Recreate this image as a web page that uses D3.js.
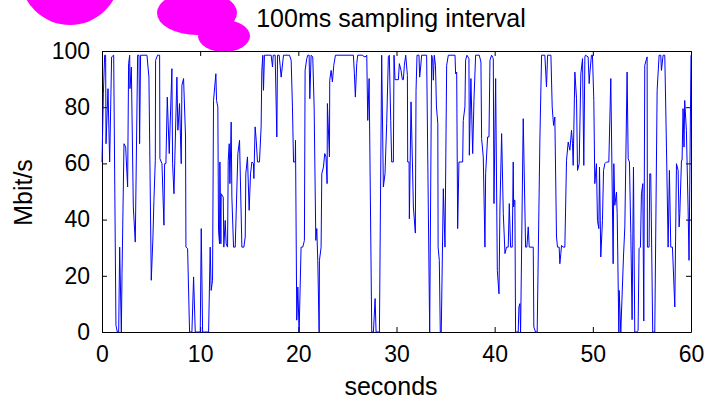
<!DOCTYPE html>
<html>
<head>
<meta charset="utf-8">
<script src="https://cdn.jsdelivr.net/npm/d3@7"></script>
<style>
  body { margin: 0; background: #fff; }
  svg { display: block; font-family: "Liberation Sans", Arial, sans-serif; }
  .axis text { font-size: 23px; fill: #000; }
  .axis path, .axis line { stroke: #000; }
</style>
</head>
<body>
<svg id="chart"></svg>
<script>
// 100 ms samples (seconds, Mbit/s)
const times = [
  0.00, 0.14, 0.27, 0.37, 0.41, 0.61, 0.78, 0.98, 1.19, 1.42, 1.56, 1.70, 1.80, 1.97, 2.04, 2.24, 2.41, 2.61, 2.71, 2.82,
  2.85, 2.99, 3.19, 3.39, 3.63, 3.77, 3.83, 3.93, 4.58, 4.78, 5.02, 5.19, 5.29, 5.43, 5.46, 5.66, 5.87, 5.90, 6.11, 6.31,
  6.38, 6.51, 6.65, 6.85, 7.12, 7.19, 7.33, 7.63, 7.73, 7.90, 8.07, 8.14, 8.31, 8.51, 8.55, 8.72, 8.92, 9.16, 9.33, 9.50,
  10.01, 10.11, 10.25, 10.86, 11.02, 11.12, 11.26, 11.36, 11.60, 11.67, 11.80, 11.87, 11.97, 12.01, 12.11, 12.14, 12.35, 12.41, 12.55, 12.65,
  12.79, 12.86, 12.96, 13.03, 13.16, 13.23, 13.40, 13.57, 13.84, 14.01, 14.25, 14.45, 14.59, 14.65, 14.82, 14.99, 15.13, 15.27, 15.43, 15.47,
  15.60, 15.71, 15.84, 16.04, 16.21, 16.28, 16.38, 16.45, 16.55, 17.23, 17.37, 17.44, 17.64, 17.81, 17.88, 18.05, 18.25, 18.49, 19.10, 19.27,
  19.40, 19.51, 19.68, 19.71, 19.84, 19.95, 20.08, 20.28, 20.45, 20.62, 20.69, 20.86, 20.96, 21.10, 21.17, 21.30, 21.47, 21.61, 21.78, 21.88,
  21.98, 22.12, 22.15, 22.32, 22.39, 22.56, 22.69, 22.82, 22.93, 22.96, 23.17, 23.20, 23.34, 23.47, 23.61, 23.78, 25.61, 25.71, 25.81, 25.95,
  26.05, 26.56, 26.70, 26.90, 26.97, 27.07, 27.21, 27.48, 27.65, 27.82, 27.92, 28.26, 28.49, 28.66, 28.83, 29.00, 29.17, 29.27, 29.41, 29.51,
  29.68, 29.75, 29.85, 30.19, 30.29, 30.46, 30.60, 30.70, 30.80, 30.94, 31.11, 31.14, 31.28, 31.31, 31.48, 31.62, 31.72, 31.92, 31.99, 32.09,
  32.29, 32.36, 32.46, 32.56, 33.07, 33.38, 33.58, 33.68, 33.75, 33.85, 33.97, 34.07, 34.21, 34.24, 34.36, 34.46, 34.56, 34.77, 34.94, 35.11,
  35.28, 35.96, 36.02, 36.13, 36.23, 36.36, 36.74, 36.80, 36.97, 37.04, 37.18, 37.38, 37.42, 37.58, 37.76, 37.89, 38.06, 38.43, 38.60, 38.67,
  38.84, 39.01, 39.08, 39.28, 39.42, 39.52, 39.69, 39.86, 39.93, 40.10, 40.27, 40.44, 40.54, 40.71, 40.88, 41.05, 41.21, 41.38, 41.49, 41.62,
  41.79, 41.89, 41.93, 42.00, 42.06, 42.13, 42.40, 42.47, 42.57, 42.64, 42.91, 43.15, 43.28, 43.42, 43.52, 43.93, 43.99, 44.16, 44.33, 44.61,
  44.78, 45.11, 45.22, 45.28, 45.39, 45.73, 45.86, 46.00, 46.13, 46.30, 46.40, 46.57, 46.64, 46.74, 46.81, 46.98, 47.15, 47.32, 47.49, 47.66,
  47.83, 47.93, 48.00, 48.17, 48.34, 48.44, 48.61, 48.78, 48.95, 49.08, 49.19, 49.25, 49.52, 49.63, 49.69, 49.86, 49.96, 50.10, 50.20, 50.37,
  50.47, 50.61, 50.68, 50.81, 50.98, 51.09, 51.22, 51.39, 51.63, 51.83, 52.07, 52.14, 52.24, 52.41, 52.48, 52.65, 52.68, 52.85, 53.12, 53.26,
  53.49, 53.60, 53.73, 53.87, 54.00, 54.14, 54.27, 54.48, 54.61, 54.71, 54.85, 54.95, 55.09, 55.19, 55.29, 55.53, 55.56, 55.73, 55.80, 55.90,
  56.10, 56.31, 56.55, 56.75, 56.92, 56.99, 57.16, 57.33, 57.50, 57.67, 57.80, 57.94, 58.11, 58.35, 58.52, 58.69, 58.79, 58.86, 59.03, 59.09,
  59.19, 59.29, 59.36, 59.53, 59.70, 59.80, 60.00
];
const rates = [
  60.5, 84.8, 98.5, 98.5, 67.0, 86.6, 60.5, 97.9, 98.5, 2.4, 0, 0, 30.2, 0, 20.8, 67.0, 65.8, 51.6, 95.5, 98.5,
  86.6, 94.3, 44.5, 32.0, 98.5, 98.5, 67.0, 98.5, 98.5, 90.7, 18.4, 33.8, 46.9, 61.1, 96.7, 98.5, 98.5, 61.7, 59.9, 38.0,
  59.9, 59.9, 83.6, 63.5, 93.7, 59.9, 49.2, 90.7, 71.8, 81.3, 59.9, 87.8, 90.2, 69.4, 30.2, 29.7, 0, 0, 19.6, 0,
  0, 36.8, 0, 0, 30.2, 14.8, 18.4, 82.4, 91.9, 82.4, 80.1, 36.2, 31.4, 60.5, 31.4, 49.2, 48.0, 30.2, 39.7, 31.4,
  30.2, 61.1, 67.0, 52.8, 74.7, 48.0, 30.2, 30.2, 63.5, 68.2, 30.2, 30.2, 33.8, 56.3, 62.3, 43.3, 56.3, 60.5, 59.9, 54.6,
  73.0, 68.2, 60.5, 60.5, 73.0, 93.1, 98.5, 86.0, 98.5, 98.5, 94.3, 98.5, 98.5, 69.4, 98.5, 98.5, 90.7, 98.5, 98.5, 96.7,
  80.1, 60.5, 60.5, 68.2, 4.2, 16.0, 0, 30.2, 30.2, 32.6, 93.1, 97.3, 98.5, 98.5, 83.0, 98.5, 97.9, 80.1, 32.6, 36.8,
  25.5, 0, 25.5, 30.2, 56.3, 58.7, 63.5, 62.3, 52.8, 81.3, 62.3, 89.6, 93.1, 89.0, 94.9, 98.5, 98.5, 91.9, 83.6, 95.5,
  98.5, 98.5, 97.9, 98.1, 98.5, 75.3, 90.2, 0, 0, 11.9, 0, 0, 98.5, 51.6, 56.3, 74.1, 97.9, 98.5, 75.3, 60.5,
  60.5, 98.5, 89.8, 89.8, 95.5, 93.1, 89.8, 89.8, 94.9, 98.5, 91.3, 60.5, 60.5, 40.3, 81.9, 60.5, 44.5, 35.2, 86.0, 98.5,
  98.5, 90.7, 94.3, 98.5, 98.5, 0, 98.5, 97.3, 89.6, 98.5, 94.9, 80.1, 74.1, 30.2, 25.5, 0, 0, 51.0, 30.2, 94.9,
  98.5, 98.5, 91.9, 92.5, 36.8, 60.5, 60.5, 75.3, 80.1, 96.7, 98.5, 97.3, 62.9, 90.2, 63.5, 82.4, 98.5, 98.5, 96.1, 68.8,
  62.3, 30.2, 56.3, 69.4, 69.4, 96.7, 98.5, 97.3, 45.7, 90.2, 21.9, 13.6, 44.5, 70.6, 42.1, 27.9, 30.2, 30.2, 45.7, 30.2,
  30.2, 60.5, 44.5, 46.9, 46.9, 0, 0, 8.9, 10.1, 0, 75.9, 30.2, 30.2, 37.4, 30.2, 30.2, 1.8, 0, 0, 69.4,
  98.5, 98.5, 91.3, 87.2, 98.5, 98.5, 80.1, 73.5, 76.5, 33.8, 30.2, 30.2, 24.3, 27.9, 30.8, 30.2, 30.2, 61.1, 67.6, 64.7,
  71.8, 67.0, 59.3, 92.5, 83.0, 57.5, 59.9, 91.9, 97.3, 59.3, 97.9, 98.5, 97.9, 88.4, 91.9, 98.5, 98.5, 82.4, 52.8, 59.9,
  39.7, 36.8, 58.7, 26.7, 39.7, 57.5, 59.9, 60.5, 60.5, 90.2, 24.3, 59.9, 45.1, 49.8, 42.1, 0, 14.8, 0, 26.7, 37.4,
  92.5, 61.7, 60.5, 35.0, 4.4, 58.7, 0, 0, 0.6, 29.7, 30.2, 49.2, 52.8, 3.9, 94.9, 97.9, 30.2, 30.2, 56.3, 56.3,
  0, 0, 86.0, 98.5, 98.5, 93.1, 98.5, 98.5, 65.8, 30.2, 57.5, 30.2, 30.2, 8.9, 59.9, 57.5, 37.4, 42.1, 61.1, 61.1,
  79.5, 65.8, 82.4, 71.8, 44.5, 25.5, 98.5
];
const xTicks = [0, 10, 20, 30, 40, 50, 60];
const yTicks = [0, 20, 40, 60, 80, 100];
const titleText = "100ms sampling interval";
const xLabel = "seconds";
const yLabel = "Mbit/s";

const config = {
  width: 706,
  height: 401,
  margin: { top: 51, right: 15, bottom: 69, left: 102 },
};

const data = times.map((t, i) => ({ t: t, v: rates[i] }));

const innerW = config.width - config.margin.left - config.margin.right;
const innerH = config.height - config.margin.top - config.margin.bottom;

const svg = d3.select("#chart")
  .attr("width", config.width)
  .attr("height", config.height);

// the pink blobs covering the top-left corner
const blobs = svg.append("g").attr("fill", "#ff00ff");
blobs.append("circle").attr("cx", 70).attr("cy", -25).attr("r", 50);
blobs.append("ellipse").attr("cx", 197).attr("cy", 13).attr("rx", 40).attr("ry", 22);
blobs.append("ellipse").attr("cx", 224).attr("cy", 36).attr("rx", 26).attr("ry", 16);

const chart = svg.append("g")
  .attr("transform", `translate(${config.margin.left},${config.margin.top})`);

const xScale = d3.scaleLinear().domain([0, 60]).range([0, innerW]);
const yScale = d3.scaleLinear().domain([0, 100]).range([innerH, 0]);

// box with inward ticks on all four sides, matlab style
chart.append("g")
  .attr("class", "axis")
  .attr("transform", `translate(0,${innerH})`)
  .call(d3.axisBottom(xScale).tickValues(xTicks).tickSizeInner(-5).tickSizeOuter(0).tickPadding(14));

chart.append("g")
  .attr("class", "axis")
  .call(d3.axisTop(xScale).tickValues(xTicks).tickSizeInner(-5).tickSizeOuter(0).tickFormat(""));

chart.append("g")
  .attr("class", "axis")
  .call(d3.axisLeft(yScale).tickValues(yTicks).tickSizeInner(-5).tickSizeOuter(0).tickPadding(12));

chart.append("g")
  .attr("class", "axis")
  .attr("transform", `translate(${innerW},0)`)
  .call(d3.axisRight(yScale).tickValues(yTicks).tickSizeInner(-5).tickSizeOuter(0).tickFormat(""));

chart.selectAll(".axis text").attr("font-family", null);

const line = d3.line()
  .x((d) => xScale(d.t))
  .y((d) => yScale(d.v));

chart.append("path")
  .datum(data)
  .attr("fill", "none")
  .attr("stroke", "#0000ff")
  .attr("stroke-width", 1)
  .attr("d", line);

svg.append("text")
  .attr("x", 391)
  .attr("y", 27)
  .attr("text-anchor", "middle")
  .style("font-size", "25px")
  .text(titleText);

svg.append("text")
  .attr("x", 391)
  .attr("y", 395)
  .attr("text-anchor", "middle")
  .style("font-size", "25px")
  .text(xLabel);

svg.append("text")
  .attr("transform", `translate(32,${config.margin.top + innerH / 2 + 1}) rotate(-90)`)
  .attr("text-anchor", "middle")
  .style("font-size", "25px")
  .text(yLabel);
</script>
</body>
</html>
